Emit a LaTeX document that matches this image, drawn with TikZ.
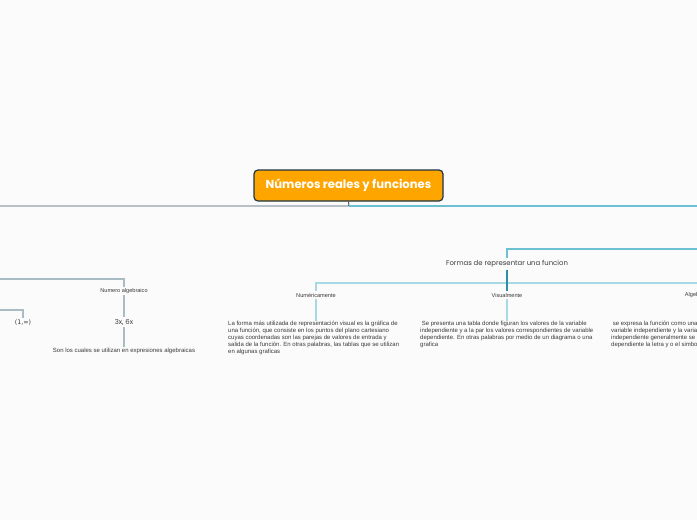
\documentclass[tikz,border=0pt]{standalone}
\usepackage{fontspec}
\setmainfont{Liberation Sans}
\newfontfamily\popfont{Poppins}
\newfontfamily\djfont{DejaVu Sans}
\definecolor{bgc}{HTML}{FBFBFB}
\definecolor{rootfill}{HTML}{FFA500}
\definecolor{rootdraw}{HTML}{1E3546}
\definecolor{darkline}{HTML}{3E5563}
\definecolor{tealline}{HTML}{6CC0D3}
\definecolor{grayline}{HTML}{A9BBC4}
\definecolor{paleblue}{HTML}{A6D9E4}
\definecolor{deepblue}{HTML}{2E8CA6}
\definecolor{txt}{HTML}{3A3A3A}
\begin{document}
\begin{tikzpicture}[x=1pt,y=-1pt,
  rootbox/.style={draw=rootdraw, line width=1.2pt, fill=rootfill, rounded corners=4pt,
    minimum width=189pt, minimum height=31pt, inner sep=0pt,
    font=\popfont\bfseries\fontsize{11.6}{13}\selectfont, text=white},
  lab/.style={font=\fontsize{5.6}{7}\selectfont, text=txt, inner sep=1.5pt},
  big/.style={font=\popfont\fontsize{6.9}{8}\selectfont, text=txt, inner sep=2pt},
  desc/.style={font=\fontsize{6.0}{7.2}\selectfont, text=txt, align=left, inner sep=0pt, anchor=north west},
  dline/.style={draw=darkline, line width=0.9pt},
  tline/.style={draw=tealline, line width=1.1pt},
  gline/.style={draw=grayline, line width=1.1pt},
  pline/.style={draw=paleblue, line width=1.2pt},
  bline/.style={draw=deepblue, line width=1.1pt}]
\useasboundingbox (0,0) rectangle (697,520);
\fill[bgc] (0,0) rectangle (697,520);
\begin{scope}
\clip (0,0) rectangle (697,520);

% root
\node[rootbox] (root) at (348.5,185.5) {Números reales y funciones};
\coordinate (rj) at (349,206);
\coordinate (rootL) at (0,206);
\coordinate (rootR) at (697,206);
\draw[dline] (root.south) -- (rj) -- (rootL);
\draw[tline] (rj) -- (rootR);

% left branch
\coordinate (l1) at (0,279);
\coordinate (l2) at (0,310);
\node[lab] (na) at (124,291) {Numero algebraico};
\node[big, font=\djfont\fontsize{6.3}{8}\selectfont] (inf) at (23,323) {(1,∞)};
\node[big] (x6) at (124,322) {3x, 6x};
\node[lab, font=\fontsize{6.0}{7}\selectfont] (son) at (124,351) {Son los cuales se utilizan en expresiones algebraicas};
\draw[gline] (l1) -| (na.north);
\draw[gline] (l2) -| (inf.north);
\draw[gline, line width=1.6pt] (na.south) -- (x6.north);
\draw[gline, line width=1.6pt] (x6.south) -- (son.north);

% right branch
\coordinate (r1) at (697,249);
\node[big] (formas) at (507,264) {Formas de representar una funcion};
\draw[tline] (r1) -| (formas.north);
\coordinate (rj2) at (507,283);
\node[lab] (num) at (316,295) {Numéricamente};
\node[lab] (vis) at (507,295) {Visualmente};
\node[lab] (alg) at (706,295) {Algebraicamente};
\draw[pline] (num.north) |- (rj2) -| (alg.north);
\draw[bline] (formas.south) -- (vis.north);

\node[desc] (numtxt) at (228,320.5) {La forma más utilizada de representación visual es la gráfica de\\
una función, que consiste en los puntos del plano cartesiano\\
cuyas coordenadas son las parejas de valores de entrada y\\
salida de la función. En otras palabras, las tablas que se utilizan\\
en algunas graficas};
\node[desc] (vistxt) at (420,320.5) {\ Se presenta una tabla donde figuran los valores de la variable\\
independiente y a la par los valores correspondientes de variable\\
dependiente. En otras palabras por medio de un diagrama o una\\
grafica};
\node[desc] (algtxt) at (611,320.5) {\ se expresa la función como una\\
variable independiente y la varia\\
independiente generalmente se\\
dependiente la letra y o el simbo};
\draw[pline, line width=1.6pt] (num.south) -- (num.south |- numtxt.north);
\draw[pline, line width=1.2pt] (vis.south) -- (vis.south |- vistxt.north);
\draw[pline, line width=1.2pt] (alg.south) -- (alg.south |- algtxt.north);
\end{scope}
\end{tikzpicture}
\end{document}
